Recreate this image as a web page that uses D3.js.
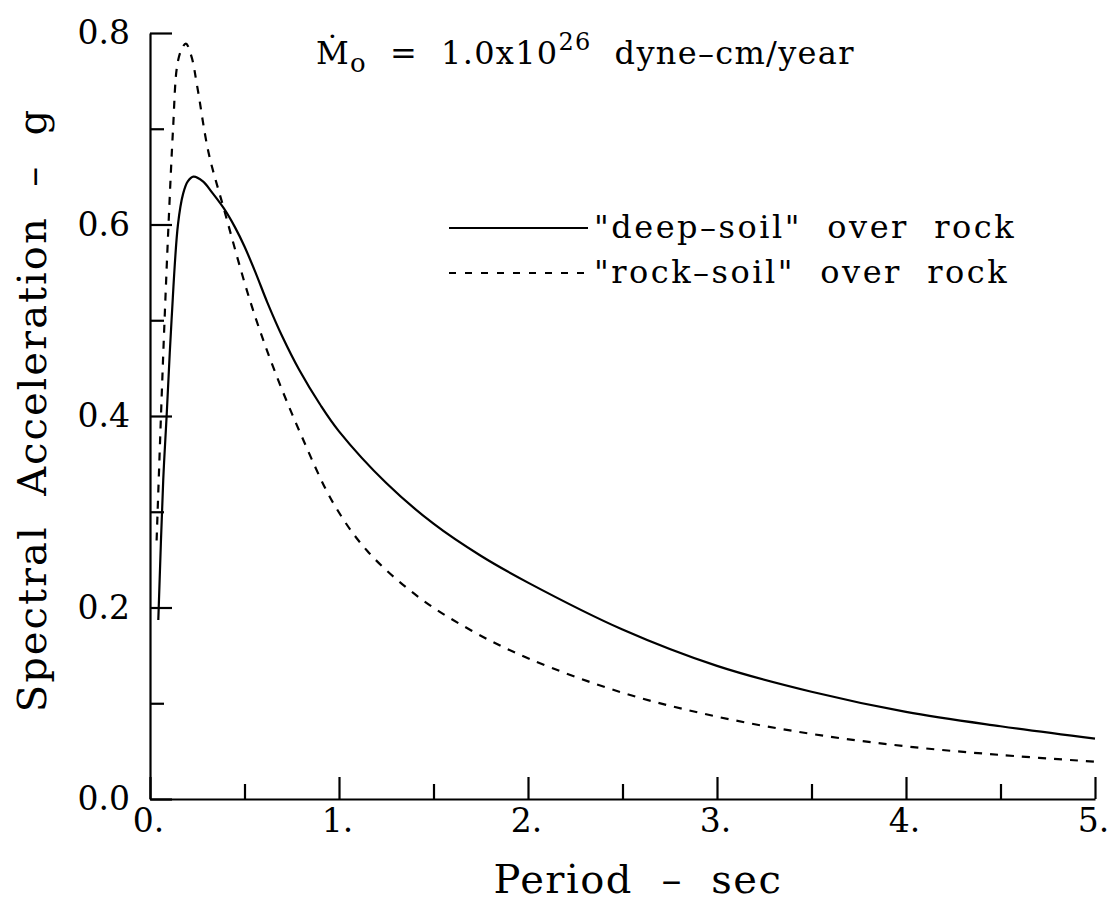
<!DOCTYPE html>
<meta charset="utf-8">
<script src="https://cdn.jsdelivr.net/npm/d3@7"></script>
<style>
body { margin: 0; background: #fff; }
text { font-family: "DejaVu Serif", serif; fill: #000; white-space: pre; }
.axis path, .axis line { stroke: #000; stroke-width: 2.2px; }
.curve { fill: none; stroke: #000; stroke-width: 2.2px; }
.dashed { stroke-dasharray: 8,8; }
</style>
<body>
<script>

// period (sec) and spectral acceleration (g)
var deepT  = [0.044, 0.07, 0.088, 0.114, 0.148, 0.175, 0.20, 0.23, 0.28, 0.33, 0.39, 0.45, 0.50, 0.56, 0.62, 0.70, 0.79, 0.90, 1.0, 1.25, 1.5, 1.75, 2.0, 2.5, 3.0, 3.5, 4.0, 4.5, 5.0];
var deepSA = [0.187, 0.333, 0.40, 0.50, 0.60, 0.632, 0.645, 0.65, 0.645, 0.633, 0.617, 0.597, 0.577, 0.549, 0.519, 0.483, 0.448, 0.412, 0.384, 0.330, 0.2875, 0.254, 0.226, 0.177, 0.139, 0.112, 0.091, 0.076, 0.063];

var rockT  = [0.035, 0.058, 0.077, 0.098, 0.122, 0.143, 0.165, 0.19, 0.22, 0.25, 0.31, 0.39, 0.53, 0.65, 0.80, 0.97, 1.15, 1.42, 1.7, 2.0, 2.5, 3.0, 3.5, 4.0, 4.5, 5.0];
var rockSA = [0.27, 0.40, 0.50, 0.60, 0.70, 0.765, 0.782, 0.789, 0.775, 0.744, 0.675, 0.617, 0.52, 0.452, 0.38, 0.309, 0.259, 0.211, 0.176, 0.147, 0.111, 0.086, 0.068, 0.055, 0.046, 0.039];

var xMajor = [0, 1, 2, 3, 4, 5];
var xMinor = [0.5, 1.5, 2.5, 3.5, 4.5];
var yMajor = [0, 0.2, 0.4, 0.6, 0.8];
var yMinor = [0.1, 0.3, 0.5, 0.7];

var width = 1109, height = 907;
var svg = d3.select("body").append("svg")
    .attr("width", width)
    .attr("height", height);

var x = d3.scaleLinear().domain([0, 5]).range([150, 1095]);
var y = d3.scaleLinear().domain([0, 0.8]).range([799, 33]);

// axes, ticks point inward
svg.append("g").attr("class", "axis")
    .attr("transform", "translate(0,799)")
    .call(d3.axisBottom(x).tickValues(xMajor).tickSize(-22).tickSizeOuter(0)
        .tickFormat(function(d) { return d + "."; }))
    .call(function(g) {
      g.selectAll("text").attr("y", 10).attr("dy", "0.71em").attr("dx", -2)
       .style("font-size", "33px");
    });
svg.append("g").attr("class", "axis")
    .attr("transform", "translate(0,799)")
    .call(d3.axisBottom(x).tickValues(xMinor).tickSize(-15).tickFormat(""))
    .call(function(g) { g.select(".domain").remove(); });

svg.append("g").attr("class", "axis")
    .attr("transform", "translate(150,0)")
    .call(d3.axisLeft(y).tickValues(yMajor).tickSize(-22).tickSizeOuter(0)
        .tickFormat(d3.format(".1f")))
    .call(function(g) {
      g.selectAll("text").attr("x", -20).style("font-size", "33px");
    });
svg.append("g").attr("class", "axis")
    .attr("transform", "translate(150,0)")
    .call(d3.axisLeft(y).tickValues(yMinor).tickSize(-14).tickFormat(""))
    .call(function(g) { g.select(".domain").remove(); });

// curves
var line = d3.line()
    .x(function(d) { return x(d[0]); })
    .y(function(d) { return y(d[1]); })
    .curve(d3.curveCatmullRom.alpha(0.5));

svg.append("path").attr("class", "curve")
    .attr("d", line(d3.zip(deepT, deepSA)));
svg.append("path").attr("class", "curve dashed")
    .attr("d", line(d3.zip(rockT, rockSA)));

// axis titles
svg.append("text")
    .attr("x", 638).attr("y", 893)
    .attr("text-anchor", "middle")
    .style("font-size", "40px")
    .style("letter-spacing", "1.5px")
    .text("Period  –  sec");

svg.append("text")
    .attr("transform", "translate(46,410) rotate(-90)")
    .attr("text-anchor", "middle")
    .style("font-size", "40px")
    .style("letter-spacing", "2px")
    .text("Spectral  Acceleration  –  g");

// moment rate annotation
var title = svg.append("text")
    .attr("x", 316).attr("y", 64)
    .style("font-size", "32px")
    .style("letter-spacing", "1.3px");
title.append("tspan").text("Ṁ");
title.append("tspan").attr("dy", 8).style("font-size", "26px").text("o");
title.append("tspan").attr("dy", -8).text("  =  1.0x10");
title.append("tspan").attr("dy", -14).style("font-size", "24px").text("26");
title.append("tspan").attr("dy", 14).text("  dyne–cm/year");

// legend
var legend = [
  {label: "\"deep–soil\"  over  rock", dashed: false, y: 228},
  {label: "\"rock–soil\"  over  rock", dashed: true, y: 273}
];
legend.forEach(function(l) {
  svg.append("line").attr("class", "curve" + (l.dashed ? " dashed" : ""))
      .attr("x1", 449).attr("x2", 588)
      .attr("y1", l.y).attr("y2", l.y)
      .style("stroke-dasharray", l.dashed ? "7,9" : null);
  svg.append("text")
      .attr("x", 594).attr("y", l.y + 10)
      .style("font-size", "32px")
      .style("letter-spacing", "2.5px")
      .text(l.label);
});

</script>
</body>
